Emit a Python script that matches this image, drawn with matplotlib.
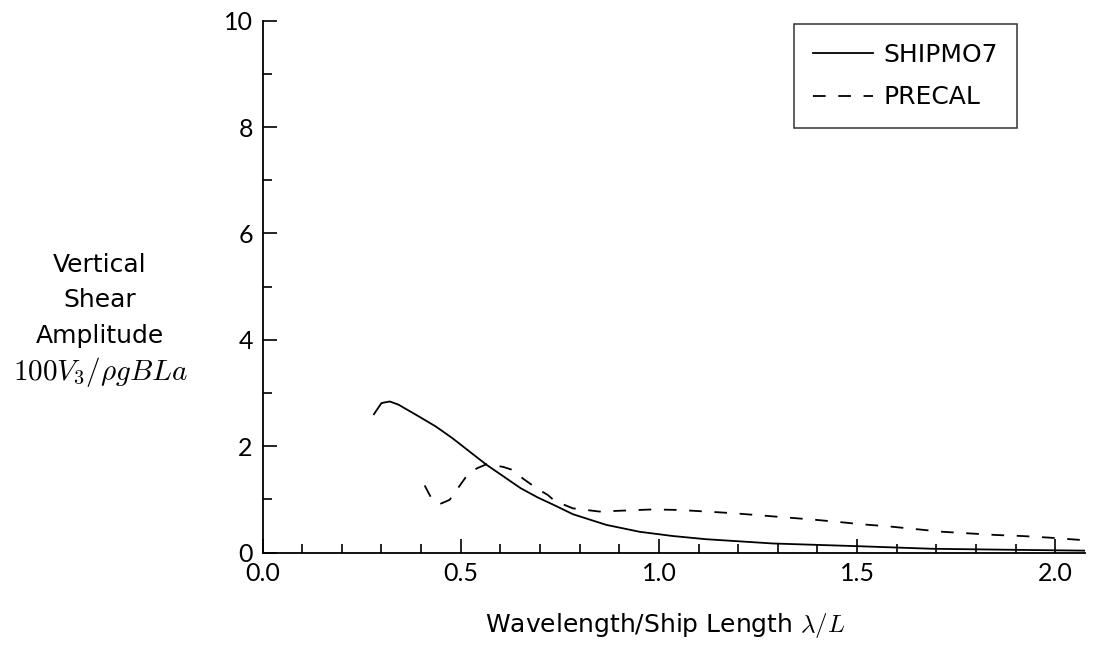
"""
Vertical shear amplitude vs wavelength / ship length, SHIPMO7 vs PRECAL.
"""

import matplotlib

matplotlib.use("Agg")  # headless
import matplotlib.pyplot as plt
from matplotlib.ticker import MultipleLocator

# Data
shipmo7_x = [0.281, 0.300, 0.321, 0.343, 0.394, 0.437, 0.479, 0.522, 0.565, 0.608,
             0.651, 0.693, 0.736, 0.783, 0.867, 0.951, 1.035, 1.119, 1.203, 1.287,
             1.371, 1.497, 1.690, 1.900, 2.075]
shipmo7_y = [2.60, 2.81, 2.84, 2.78, 2.56, 2.37, 2.15, 1.90, 1.65, 1.43,
             1.21, 1.04, 0.89, 0.72, 0.52, 0.39, 0.31, 0.25, 0.21, 0.17,
             0.15, 0.12, 0.07, 0.05, 0.035]

precal_x = [0.409, 0.426, 0.447, 0.472, 0.493, 0.514, 0.540, 0.565, 0.607, 0.632,
            0.657, 0.691, 0.720, 0.737, 0.783, 0.850, 0.917, 0.984, 1.052, 1.119,
            1.186, 1.253, 1.320, 1.387, 1.446, 1.513, 1.581, 1.648, 1.715, 1.782,
            1.849, 1.916, 1.984, 2.075]
precal_y = [1.26, 1.02, 0.91, 0.99, 1.21, 1.43, 1.58, 1.66, 1.61, 1.55,
            1.39, 1.21, 1.08, 0.97, 0.83, 0.77, 0.79, 0.81, 0.80, 0.77,
            0.74, 0.70, 0.66, 0.62, 0.58, 0.53, 0.49, 0.44, 0.39, 0.36,
            0.33, 0.31, 0.28, 0.23]

series_labels = ["SHIPMO7", "PRECAL"]
x_ticks = [0.0, 0.5, 1.0, 1.5, 2.0]
y_ticks = [0, 2, 4, 6, 8, 10]
ylabel_lines = ["Vertical", "Shear", "Amplitude", "$100V_3/\\rho gBLa$"]

plt.rcParams["font.family"] = ["DejaVu Sans"]
plt.rcParams["mathtext.fontset"] = "cm"
fs = 18

fig = plt.figure(figsize=(10.93, 6.45), dpi=100)
ax = fig.add_axes([0.2402, 0.1434, 0.7525, 0.8245])

ax.plot(shipmo7_x, shipmo7_y, color="black", lw=1.3, label=series_labels[0])
ax.plot(precal_x, precal_y, color="black", lw=1.3, linestyle=(0, (7, 7)),
        label=series_labels[1])

ax.set_xlim(0, 2.075)
ax.set_ylim(0, 10)
ax.set_xticks(x_ticks)
ax.set_xticklabels([f"{t:.1f}" for t in x_ticks], family=["Lato", "DejaVu Sans"])
ax.set_yticks(y_ticks)
ax.set_yticklabels([str(t) for t in y_ticks], family=["Lato", "DejaVu Sans"])
ax.xaxis.set_minor_locator(MultipleLocator(0.1))
ax.yaxis.set_minor_locator(MultipleLocator(1))

ax.tick_params(which="major", direction="in", length=10, width=1.2, labelsize=fs)
ax.tick_params(which="minor", direction="in", length=6.5, width=1.2)
ax.tick_params(axis="x", which="major", pad=7)
ax.tick_params(axis="y", which="major", pad=7)

for side in ["top", "right"]:
    ax.spines[side].set_visible(False)
for side in ["left", "bottom"]:
    ax.spines[side].set_linewidth(1.3)

leg = ax.legend(
    loc="upper right",
    bbox_to_anchor=(1017 / 1093, 1 - 24 / 645),
    bbox_transform=fig.transFigure,
    borderaxespad=0,
    fontsize=fs,
    frameon=True,
    fancybox=False,
    handlelength=2.4,
    handletextpad=0.45,
    borderpad=0.75,
    labelspacing=0.75,
)
leg.get_frame().set_edgecolor("black")
leg.get_frame().set_linewidth(1.1)

# multi-line y label, placed line by line (math line is a bit bigger)
ylabel_rows = [265, 300, 336, 372]
for line, row in zip(ylabel_lines, ylabel_rows):
    size = 21 if line.startswith("$") else fs
    fig.text(100 / 1093, 1 - row / 645, line, ha="center", va="center", fontsize=size)

fig.text(665 / 1093, 1 - 625 / 645, "Wavelength/Ship Length $\\lambda/L$",
         ha="center", va="center", fontsize=fs)

fig.savefig("out.png", dpi=100)
